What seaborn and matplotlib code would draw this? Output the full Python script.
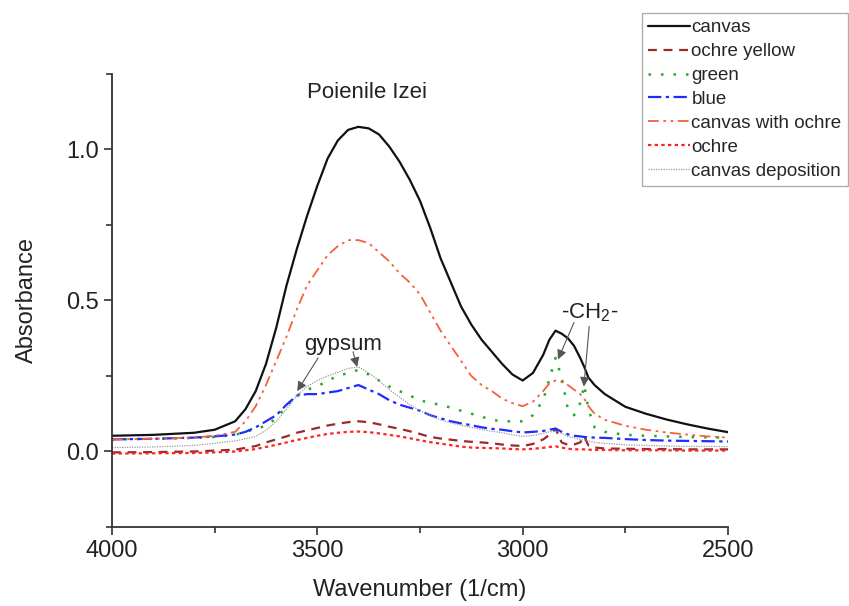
import pandas as pd
import matplotlib
matplotlib.use("Agg")
import matplotlib.pyplot as plt
import matplotlib.ticker as ticker
import seaborn as sns

# wavenumber grid (1/cm) shared by all spectra
wavenumber = [4000, 3900, 3800, 3750, 3700, 3675, 3650, 3625, 3600, 3575, 3550, 3525, 3500,
              3475, 3450, 3425, 3400, 3375, 3350, 3325, 3300, 3275, 3250, 3225, 3200, 3175,
              3150, 3125, 3100, 3075, 3050, 3025, 3000, 2975, 2950, 2935, 2920, 2905, 2890,
              2875, 2860, 2850, 2840, 2825, 2800, 2750, 2700, 2650, 2600, 2550, 2500]

canvas = [.052, .055, .062, .072, .10, .14, .20, .29, .41, .55, .67, .78, .88,
          .97, 1.03, 1.065, 1.075, 1.07, 1.05, 1.01, .96, .90, .83, .74, .64, .56,
          .48, .42, .37, .33, .29, .255, .235, .26, .32, .37, .40, .39, .375,
          .35, .31, .28, .245, .22, .19, .148, .125, .106, .09, .076, .064]

ochre_yellow = [-.003, -.002, .0, .003, .006, .012, .018, .03, .04, .05, .062, .07, .078,
                .086, .092, .097, .10, .097, .09, .082, .075, .067, .058, .048, .043, .039,
                .035, .032, .03, .027, .023, .02, .018, .025, .04, .055, .075, .03, .022,
                .023, .03, .05, .02, .013, .01, .009, .008, .008, .007, .007, .007]

green = [.04, .042, .045, .048, .055, .065, .075, .085, .11, .15, .185, .205, .215,
         .235, .25, .26, .27, .255, .235, .215, .20, .185, .17, .16, .155, .145,
         .135, .125, .115, .105, .10, .10, .10, .12, .17, .24, .31, .245, .14,
         .12, .16, .22, .14, .08, .065, .055, .052, .05, .048, .047, .046]

blue = [.04, .042, .046, .05, .056, .065, .08, .10, .12, .155, .185, .19, .19,
        .195, .20, .21, .22, .205, .19, .17, .155, .145, .135, .12, .11, .10,
        .093, .087, .08, .075, .072, .067, .063, .065, .068, .072, .076, .065, .057,
        .052, .05, .048, .047, .046, .045, .041, .038, .036, .035, .034, .033]

canvas_with_ochre = [.04, .042, .046, .052, .065, .10, .15, .22, .30, .38, .47, .55, .60,
                     .65, .68, .70, .70, .69, .66, .63, .59, .56, .52, .46, .40, .35,
                     .30, .25, .22, .20, .175, .16, .15, .165, .20, .225, .235, .23, .22,
                     .205, .19, .175, .15, .125, .105, .085, .072, .063, .056, .05, .046]

ochre = [-.007, -.006, -.005, -.003, .0, .004, .008, .015, .022, .03, .038, .045, .052,
         .058, .062, .065, .066, .064, .06, .055, .05, .044, .037, .031, .026, .021,
         .016, .013, .012, .011, .01, .008, .007, .009, .012, .015, .017, .013, .009,
         .007, .007, .007, .006, .005, .005, .004, .004, .004, .003, .003, .003]

canvas_deposition = [.013, .015, .02, .027, .035, .042, .05, .07, .10, .14, .185, .215, .235,
                     .25, .262, .275, .28, .26, .235, .205, .18, .155, .135, .12, .105, .095,
                     .087, .08, .073, .067, .062, .055, .05, .053, .06, .065, .067, .06, .05,
                     .045, .04, .038, .035, .03, .027, .022, .02, .018, .017, .017, .016]

names = ['canvas', 'ochre yellow', 'green', 'blue', 'canvas with ochre', 'ochre', 'canvas deposition']
series = [canvas, ochre_yellow, green, blue, canvas_with_ochre, ochre, canvas_deposition]

colors = {'canvas': '#111111', 'ochre yellow': '#9b2a2a', 'green': '#22a82a', 'blue': '#1f2bff',
          'canvas with ochre': '#f5603c', 'ochre': '#ff2222', 'canvas deposition': '#9a9a9a'}
dashes = {'canvas': '', 'ochre yellow': (4, 3), 'green': (1, 4), 'blue': (6, 2, 1.5, 2),
          'canvas with ochre': (6, 2.5, 1.5, 2.5, 1.5, 2.5), 'ochre': (1.5, 1.5),
          'canvas deposition': (1, 1)}
widths = [1.6, 1.6, 1.8, 1.6, 1.3, 1.6, 0.9]

rows = []
for name, vals in zip(names, series):
    for w, a in zip(wavenumber, vals):
        rows.append({'wavenumber': w, 'absorbance': a, 'sample': name})
df = pd.DataFrame(rows)

sns.set_style('ticks')
plt.rcParams['font.family'] = ['Liberation Sans', 'DejaVu Sans']
plt.rcParams['mathtext.fontset'] = 'custom'
plt.rcParams['mathtext.rm'] = 'Liberation Sans'
plt.rcParams['mathtext.it'] = 'Liberation Sans'

fig = plt.figure(figsize=(8.49, 6.06), dpi=100)
ax = fig.add_axes([0.1319, 0.1304, 0.7256, 0.7475])

sns.lineplot(data=df, x='wavenumber', y='absorbance', hue='sample', style='sample',
             hue_order=names, style_order=names, palette=colors, dashes=dashes,
             sort=False, estimator=None, legend=False, ax=ax)

for line, lw in zip(ax.lines, widths):
    line.set_linewidth(lw)

ax.set_xlim(4000, 2500)
ax.set_ylim(-0.25, 1.25)
ax.xaxis.set_major_locator(ticker.MultipleLocator(500))
ax.xaxis.set_minor_locator(ticker.MultipleLocator(250))
ax.yaxis.set_major_locator(ticker.MultipleLocator(0.5))
ax.yaxis.set_minor_locator(ticker.MultipleLocator(0.25))
ax.yaxis.set_major_formatter(ticker.FormatStrFormatter('%.1f'))
ax.tick_params(which='major', direction='out', length=6, width=1.2, labelsize=17,
               color='#333333', labelcolor='#222222')
ax.tick_params(which='minor', direction='out', length=4, width=1.2, color='#333333')
for side in ['top', 'right']:
    ax.spines[side].set_visible(False)
for side in ['left', 'bottom']:
    ax.spines[side].set_linewidth(1.3)
    ax.spines[side].set_color('#333333')

ax.set_xlabel('Wavenumber (1/cm)', fontsize=17, color='#222222', labelpad=12)
ax.set_ylabel('Absorbance', fontsize=17, color='#222222', labelpad=20)

ax.text(3379, 1.19, 'Poienile Izei', fontsize=16, ha='center', va='center', color='#222222')

arrow = dict(arrowstyle='-|>', color='#555555', lw=0.8, mutation_scale=14,
             shrinkA=0, shrinkB=0)
ax.text(3437, 0.355, 'gypsum', fontsize=16, ha='center', va='center', color='#222222')
ax.annotate('', xy=(3549, 0.20), xytext=(3498, 0.31), arrowprops=arrow)
ax.annotate('', xy=(3403, 0.28), xytext=(3413, 0.33), arrowprops=arrow)

ax.text(2836, 0.46, '-CH$_{2}$-', fontsize=16, ha='center', va='center', color='#222222')
ax.annotate('', xy=(2914, 0.305), xytext=(2875, 0.427), arrowprops=arrow)
ax.annotate('', xy=(2851, 0.215), xytext=(2838, 0.414), arrowprops=arrow)

leg = ax.legend(ax.lines[:7], names, loc='upper right', bbox_to_anchor=(0.999, 0.979),
                bbox_transform=fig.transFigure, fontsize=13.5, frameon=True, fancybox=False,
                handlelength=2.2, handletextpad=0.1, labelspacing=0.36, borderpad=0.35,
                borderaxespad=0)
leg.get_frame().set_edgecolor('#999999')
leg.get_frame().set_linewidth(1.0)

fig.savefig('out.png', dpi=100)
